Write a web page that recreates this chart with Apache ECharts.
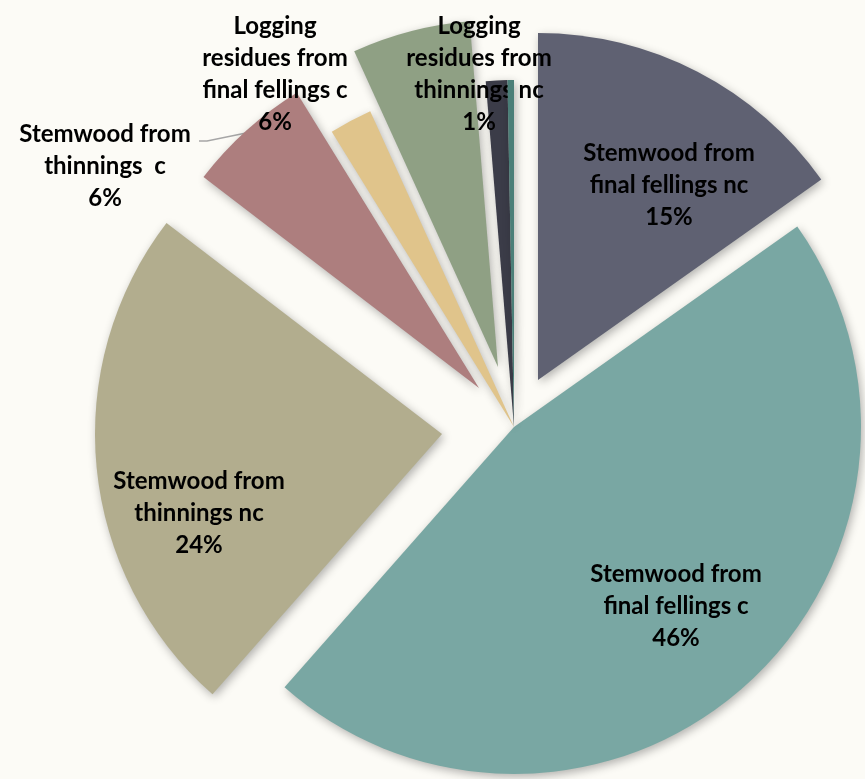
<!DOCTYPE html>
<html>
<head>
<meta charset="utf-8">
<script src="https://cdn.jsdelivr.net/npm/echarts@6/dist/echarts.min.js"></script>
<style>
html, body { margin: 0; padding: 0; background: #fcfbf6; }
#chart { width: 865px; height: 779px; }
</style>
</head>
<body>
<div id="chart"></div>
<script>
// slice names, clockwise from 12 o'clock
var categories = [
    'Stemwood from\nfinal fellings nc',
    'Stemwood from\nfinal fellings c',
    'Stemwood from\nthinnings nc',
    'Stemwood from\nthinnings  c',
    'Logging residues from\nfinal fellings nc',
    'Logging\nresidues from\nfinal fellings c',
    'Logging\nresidues from\nthinnings nc',
    'Logging residues from\nthinnings c'
];
var shares = [15.2, 46.3, 23.9, 5.8, 2.0, 5.5, 1.0, 0.3];
var showLabel = [true, true, true, true, false, true, true, false];

// styling and layout, kept apart from the data
var colors = ['#5f6172', '#79a7a3', '#b2ad8e', '#ad7e7e', '#e0c48b', '#8fa084', '#3b3c48', '#4b7f78'];
var pieCenter = [514, 427];
// how far each exploded slice is pulled out (x, y)
var explodeShift = [[24, -47], [0, 0], [-72, 7], [-35, -39], [0, 0], [-16, -60], [0, 0], [0, 0]];
var labelPos = [[669, 185], [676, 606], [199, 513], [105, 166], null, [275, 74], [479, 74], null];
// leader line for the "thinnings c" label
var leaderLine = [[246, 133], [207, 141], [199, 141]];

function buildSeries(k) {
    return {
        type: 'pie',
        z: 2 + k,
        center: [pieCenter[0] + explodeShift[k][0], pieCenter[1] + explodeShift[k][1]],
        radius: 347,
        startAngle: 90,
        clockwise: true,
        percentPrecision: 0,
        avoidLabelOverlap: false,
        silent: true,
        itemStyle: {
            shadowBlur: 10,
            shadowColor: 'rgba(0,0,0,0.3)',
            shadowOffsetX: 2,
            shadowOffsetY: 3
        },
        label: { show: false },
        labelLine: { show: false },
        data: categories.map(function (name, i) {
            var item = { name: name, value: shares[i] };
            if (i !== k) {
                item.itemStyle = { opacity: 0 };
                item.label = { show: false };
                item.labelLine = { show: false };
                return item;
            }
            item.itemStyle = { color: colors[k] };
            item.label = {
                show: showLabel[k],
                position: k === 3 ? 'outside' : 'inside',
                formatter: '{b}\n{d}%',
                color: '#000',
                fontFamily: 'Lato',
                fontWeight: 'bold',
                fontSize: 24,
                lineHeight: 32,
                align: 'center'
            };
            item.labelLine = {
                show: k === 3,
                length: 10,
                length2: 10,
                lineStyle: { color: '#a6a6a6', width: 1.5 }
            };
            return item;
        }),
        labelLayout: function (p) {
            if (p.dataIndex !== k || !labelPos[k]) return {};
            var lay = {
                x: labelPos[k][0],
                y: labelPos[k][1],
                align: 'center',
                verticalAlign: 'middle'
            };
            if (k === 3) lay.labelLinePoints = leaderLine;
            return lay;
        }
    };
}

var chart = echarts.init(document.getElementById('chart'));
var option = {
    backgroundColor: '#fcfbf6',
    animation: false,
    series: categories.map(function (n, k) { return buildSeries(k); })
};
chart.setOption(option, true);
window.onresize = function () {
    chart.resize();
};
</script>
</body>
</html>
